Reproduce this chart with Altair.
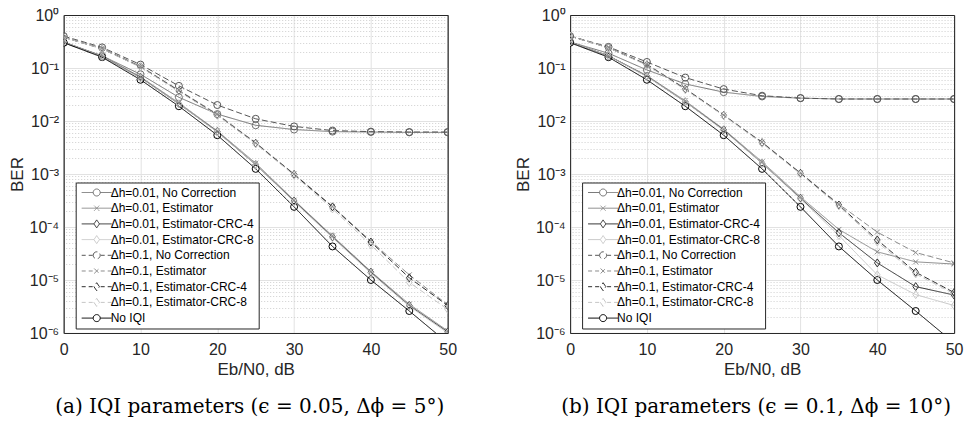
import altair as alt
import pandas as pd

# ---------------- data ----------------
X = [0, 5, 10, 15, 20, 25, 30, 35, 40, 45, 50]

SERIES = [
    "Δh=0.01, No Correction",
    "Δh=0.01, Estimator",
    "Δh=0.01, Estimator-CRC-4",
    "Δh=0.01, Estimator-CRC-8",
    "Δh=0.1, No Correction",
    "Δh=0.1, Estimator",
    "Δh=0.1, Estimator-CRC-4",
    "Δh=0.1, Estimator-CRC-8",
    "No IQI",
]
MARKERS = ["o", "x", "d", "d", "o", "x", "d", "d", "o"]
DASHED = [False, False, False, False, True, True, True, True, False]
COLORS = ["#707070", "#8c8c8c", "#2e2e2e", "#c6c6c6",
          "#555555", "#8c8c8c", "#2e2e2e", "#c6c6c6", "#000000"]

NO_IQI = [0.30, 0.16, 0.060, 0.019, 0.0054, 0.00125, 2.4e-4, 4.3e-5, 1.0e-5, 2.6e-6, 6.5e-7]

# panel (a)
A_NC_001 = [0.30, 0.17, 0.076, 0.028, 0.0135, 0.0083, 0.0069, 0.0063, 0.0062, 0.0061, 0.0061]
A_EST_001 = [0.31, 0.17, 0.068, 0.022, 0.0065, 0.0016, 3.2e-4, 6.8e-5, 1.45e-5, 3.5e-6, 1.1e-6]
A_CRC4_001 = [0.31, 0.165, 0.066, 0.021, 0.0063, 0.0015, 3.1e-4, 6.5e-5, 1.4e-5, 3.3e-6, 1.05e-6]
A_CRC8_001 = [0.31, 0.165, 0.065, 0.021, 0.0062, 0.0015, 3.0e-4, 6.3e-5, 1.35e-5, 3.2e-6, 1.0e-6]
A_NC_01 = [0.40, 0.245, 0.116, 0.046, 0.020, 0.011, 0.0079, 0.0066, 0.0063, 0.0062, 0.0062]
A_EST_01 = [0.38, 0.235, 0.108, 0.038, 0.0135, 0.0039, 1.0e-3, 2.45e-4, 5.4e-5, 1.25e-5, 3.4e-6]
A_CRC4_01 = [0.38, 0.23, 0.105, 0.037, 0.013, 0.0038, 9.8e-4, 2.4e-4, 5.2e-5, 1.1e-5, 3.3e-6]
A_CRC8_01 = [0.38, 0.23, 0.104, 0.036, 0.0128, 0.0037, 9.5e-4, 2.2e-4, 4.6e-5, 9.0e-6, 2.8e-6]

# panel (b)
B_NC_001 = [0.31, 0.19, 0.092, 0.050, 0.035, 0.029, 0.027, 0.026, 0.026, 0.026, 0.026]
B_EST_001 = [0.31, 0.17, 0.072, 0.024, 0.0070, 0.0017, 3.7e-4, 9.0e-5, 3.4e-5, 2.2e-5, 2.0e-5]
B_CRC4_001 = [0.31, 0.17, 0.070, 0.023, 0.0068, 0.0016, 3.5e-4, 7.8e-5, 2.1e-5, 7.5e-6, 5.2e-6]
B_CRC8_001 = [0.31, 0.17, 0.069, 0.023, 0.0066, 0.0016, 3.4e-4, 6.9e-5, 1.25e-5, 5.3e-6, 3.3e-6]
B_NC_01 = [0.40, 0.25, 0.13, 0.066, 0.040, 0.030, 0.027, 0.026, 0.026, 0.026, 0.026]
B_EST_01 = [0.40, 0.245, 0.118, 0.041, 0.0130, 0.0040, 1.05e-3, 2.7e-4, 8.0e-5, 3.3e-5, 2.1e-5]
B_CRC4_01 = [0.40, 0.24, 0.115, 0.040, 0.0128, 0.0039, 1.03e-3, 2.6e-4, 5.7e-5, 1.4e-5, 5.8e-6]
B_CRC8_01 = [0.40, 0.24, 0.113, 0.039, 0.0126, 0.0038, 1.0e-3, 2.5e-4, 5.2e-5, 1.3e-5, 5.5e-6]

XTICKS = [0, 10, 20, 30, 40, 50]
YTICKS = [1e-6, 1e-5, 1e-4, 1e-3, 1e-2, 1e-1, 1]
YTICK_LABELS = ["10⁻⁶", "10⁻⁵", "10⁻⁴", "10⁻³", "10⁻²", "10⁻¹", "10⁰"]
YMINOR = [m * 10.0 ** e for e in range(-6, 0) for m in range(2, 10)]

CAPTION_A = "(a) IQI parameters (ϵ = 0.05, Δϕ = 5°)"
CAPTION_B = "(b) IQI parameters (ϵ = 0.1, Δϕ = 10°)"

PANEL_A = [A_NC_001, A_EST_001, A_CRC4_001, A_CRC8_001, A_NC_01, A_EST_01, A_CRC4_01, A_CRC8_01, NO_IQI]
PANEL_B = [B_NC_001, B_EST_001, B_CRC4_001, B_CRC8_001, B_NC_01, B_EST_01, B_CRC4_01, B_CRC8_01, NO_IQI]

# ---------------- styling ----------------
FONT = "Liberation Sans"
TXT = "#262626"
W, H = 384, 318

MARK_PATH = {
    "o": "M-0.7,0A0.7,0.7,0,1,1,0.7,0A0.7,0.7,0,1,1,-0.7,0Z",
    "x": "M-0.5,-0.5L0.5,0.5M-0.5,0.5L0.5,-0.5",
    "d": "M0,-0.8L0.55,0L0,0.8L-0.55,0Z",
}
GAP = {"o": 0.7, "x": 0.0, "d": 0.55}


def legend_path(marker, dashed):
    g = GAP[marker]
    if dashed:
        line = "M-3,0L-2.2,0M-1.6,0L-0.8,0M0.8,0L1.6,0M2.2,0L3,0"
    elif g > 0:
        line = f"M-3,0L-{g},0M{g},0L3,0"
    else:
        line = "M-3,0L3,0"
    return line + MARK_PATH[marker]


LEGEND_SHAPES = [legend_path(m, d) for m, d in zip(MARKERS, DASHED)]
DASHES = [[6, 3] if d else [1, 0] for d in DASHED]


def make_df(values):
    rows = []
    for name, mk, ys in zip(SERIES, MARKERS, values):
        for x, y in zip(X, ys):
            rows.append({"x": x, "y": y, "series": name, "marker": mk})
    return pd.DataFrame(rows)


label_expr = ""
for v, lab in zip(YTICKS[:-1], YTICK_LABELS[:-1]):
    label_expr += f"datum.value < {v * 3} ? '{lab}' : "
label_expr += f"'{YTICK_LABELS[-1]}'"

xscale = alt.Scale(domain=[0, 50], nice=False, zero=False)
yscale = alt.Scale(type="log", domain=[1e-6, 1], nice=False)
cscale = alt.Scale(domain=SERIES, range=COLORS)

x_axis = alt.Axis(
    values=XTICKS, title="Eb/N0, dB", grid=True, gridColor="#e2e2e2",
    ticks=False, domain=True, domainColor=TXT, domainWidth=1,
    labelFont=FONT, labelFontSize=16, labelFlush=False,
    labelColor=TXT, labelPadding=9, titleFont=FONT, titleFontSize=17,
    titleFontWeight="normal", titleColor=TXT, titlePadding=4)
x_top = alt.Axis(
    orient="top", values=XTICKS, labels=False, ticks=False, grid=False,
    domain=True, domainColor=TXT, domainWidth=1, title=None,
    minExtent=0, maxExtent=0, offset=0)
y_axis = alt.Axis(
    values=YTICKS, labelExpr=label_expr, title="BER", grid=True,
    gridColor="#e2e2e2", ticks=False, domain=True, domainColor=TXT,
    domainWidth=1, labelFont=FONT, labelBaseline="alphabetic", labelOffset=5.5,
    labelFontSize=16, labelColor=TXT, labelPadding=5, titleFont=FONT,
    titleFontSize=17, titleFontWeight="normal", titleColor=TXT,
    titlePadding=2.5)
y_minor = alt.Axis(
    orient="right", values=YMINOR, labels=False, ticks=False,
    domain=True, domainColor=TXT, domainWidth=1, title=None, grid=True,
    gridColor="#cfcfcf", gridDash=[1, 2], minExtent=0, maxExtent=0)

LEG = alt.Legend(
    orient="none", legendX=12, legendY=167.5, title=None,
    strokeColor=TXT, fillColor="white", padding=4, cornerRadius=0,
    labelFont=FONT, labelFontSize=12, labelColor="black",
    symbolSize=100, symbolStrokeWidth=1, symbolOffset=11, labelOffset=8,
    rowPadding=3.7, labelLimit=300)


def panel(values, caption):
    base = alt.Chart(make_df(values))
    x_none = alt.X("x:Q", scale=xscale, axis=None)
    y_none = alt.Y("y:Q", scale=yscale, axis=None)
    col = alt.Color("series:N", scale=cscale, legend=LEG)

    lines = base.mark_line(strokeWidth=1, clip=True).encode(
        x=alt.X("x:Q", scale=xscale, axis=x_axis),
        y=alt.Y("y:Q", scale=yscale, axis=y_axis),
        color=col,
        strokeDash=alt.StrokeDash("series:N", scale=alt.Scale(domain=SERIES, range=DASHES), legend=None),
    )

    def pts(mk, shape, size, xenc):
        return base.transform_filter(alt.datum.marker == mk).mark_point(
            shape=shape, filled=False, size=size, strokeWidth=1, opacity=1, clip=True
        ).encode(x=xenc, y=y_none, color=col)

    p_o = pts("o", "circle", 49, alt.X("x:Q", scale=xscale, axis=x_top))
    p_x = pts("x", "M-1,-1L1,1M-1,1L1,-1", 25, x_none)
    p_d = pts("d", "M0,-1L0.7,0L0,1L-0.7,0Z", 64, x_none)

    legend_layer = base.mark_point(
        filled=False, opacity=1, strokeWidth=1, size=0
    ).encode(
        x=x_none,
        y=alt.Y("y:Q", scale=yscale, axis=y_minor),
        color=col,
        shape=alt.Shape("series:N", scale=alt.Scale(domain=SERIES, range=LEGEND_SHAPES), legend=LEG),
    )

    return alt.layer(lines, p_o, p_x, p_d, legend_layer).resolve_axis(
        y="independent", x="independent"
    ).properties(
        width=W, height=H,
        title=alt.TitleParams(caption, orient="bottom", font="DejaVu Serif",
                              fontSize=20, fontWeight="normal", color="black",
                              offset=19, anchor="middle", dx=-6),
    )


chart = alt.hconcat(
    panel(PANEL_A, CAPTION_A), panel(PANEL_B, CAPTION_B), spacing=56.4
).resolve_scale(
    color="independent", shape="independent", strokeDash="independent"
).resolve_legend(
    color="independent", shape="independent"
).properties(
    padding={"top": -1, "left": -0.3, "right": 0, "bottom": 0}
).configure_view(
    stroke=TXT, strokeWidth=1
)

chart.save("out.html", embed_options={"renderer": "svg", "actions": False})
